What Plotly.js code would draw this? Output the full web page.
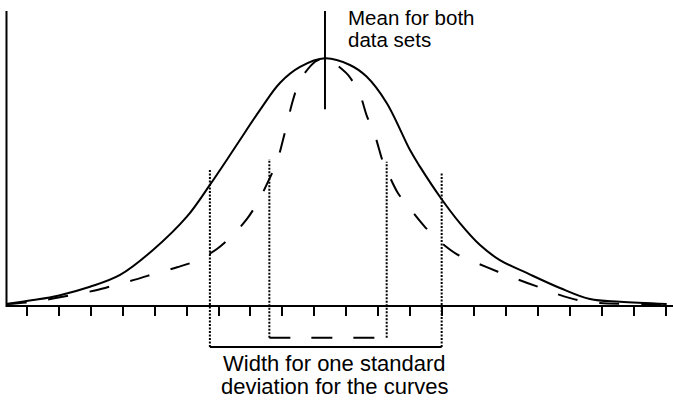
<!DOCTYPE html>
<html>
<head>
<meta charset="utf-8">
<script src="https://cdn.plot.ly/plotly-3.0.1.min.js"></script>
<style>html,body{margin:0;padding:0;background:#fff;}#chart{width:673px;height:403px;}</style>
</head>
<body>
<div id="chart"></div>
<script>
// ---- data ----
const tickVals = [0,1,2,3,4,5,6,7,8,9,10,11,12,13,14,15,16,17,18,19,20];

const solidX = [-0.63, 0.20, 0.98, 1.98, 2.92, 3.95, 5.01, 5.73, 6.36, 6.67, 7.30, 7.92, 8.55, 9.33, 10.11, 10.63, 11.26, 11.99, 12.30, 12.93, 13.55, 14.18, 14.80, 15.64, 16.68, 17.62, 18.56, 20.02];
const solidY = [0.008, 0.024, 0.042, 0.078, 0.126, 0.227, 0.362, 0.491, 0.612, 0.673, 0.795, 0.904, 0.969, 1.004, 0.977, 0.930, 0.823, 0.632, 0.565, 0.442, 0.336, 0.247, 0.186, 0.134, 0.073, 0.028, 0.017, 0.008];

const dashX = [-0.63, 0.20, 1.45, 2.20, 2.76, 3.45, 4.07, 4.73, 5.36, 5.95, 6.45, 6.89, 7.24, 7.55, 7.83, 8.05, 8.33, 8.55, 9.02, 9.33, 9.49, 10.05, 10.43, 10.63, 10.89, 11.14, 11.30, 11.61, 12.04, 12.46, 12.98, 13.49, 14.08, 14.74, 15.33, 15.99, 16.58, 17.24, 17.93, 19.28, 20.02];
const dashY = [0.008, 0.017, 0.045, 0.065, 0.085, 0.109, 0.134, 0.158, 0.186, 0.231, 0.288, 0.353, 0.423, 0.504, 0.585, 0.690, 0.835, 0.916, 0.990, 1.005, 0.997, 0.937, 0.855, 0.774, 0.693, 0.585, 0.539, 0.458, 0.386, 0.320, 0.255, 0.207, 0.174, 0.139, 0.109, 0.078, 0.049, 0.024, 0.012, 0.008, 0.008];

const meanX = 9.33;
const solidSdBounds = [5.73, 12.98];
const dashSdBounds = [7.59, 11.26];

const meanLabel = ["Mean for both", "data sets"];
const widthLabel = ["Width for one standard", "deviation for the curves"];

// ---- drawing ----
const FONT = "Liberation Sans, Arial, Helvetica, sans-serif";
const black = "#000";

const traces = [
  {x: solidX, y: solidY, type: "scatter", mode: "lines", hoverinfo: "skip",
   line: {color: black, width: 2, shape: "spline", smoothing: 1}},
  {x: dashX, y: dashY, type: "scatter", mode: "lines", hoverinfo: "skip",
   line: {color: black, width: 2, shape: "spline", smoothing: 0.8, dash: "20px,22px"}}
];

const xMin = -0.835, xMax = 20.216;
const axisX = -0.632;
const dotted = {color: black, width: 2, dash: "2px,1.5px"};

const shapes = [
  // axes
  {type: "line", xref: "x", yref: "y", x0: axisX, x1: axisX, y0: -0.004, y1: 1.196, line: {color: black, width: 2}},
  {type: "line", xref: "x", yref: "y", x0: axisX, x1: xMax, y0: 0, y1: 0, line: {color: black, width: 2}},
  // mean marker
  {type: "line", xref: "x", yref: "y", x0: meanX, x1: meanX, y0: 0.7975, y1: 1.196, line: {color: black, width: 2}},
  // sd guides (dotted)
  {type: "line", xref: "x", yref: "y", x0: solidSdBounds[0], x1: solidSdBounds[0], y0: -0.166, y1: 0.551, line: dotted},
  {type: "line", xref: "x", yref: "y", x0: solidSdBounds[1], x1: solidSdBounds[1], y0: -0.166, y1: 0.543, line: dotted},
  {type: "line", xref: "x", yref: "y", x0: dashSdBounds[0], x1: dashSdBounds[0], y0: -0.1285, y1: 0.596, line: dotted},
  {type: "line", xref: "x", yref: "y", x0: dashSdBounds[1], x1: dashSdBounds[1], y0: -0.1285, y1: 0.585, line: dotted},
  // brackets
  {type: "line", xref: "x", yref: "y", x0: solidSdBounds[0], x1: solidSdBounds[1], y0: -0.166, y1: -0.166, line: {color: black, width: 2}},
  {type: "line", xref: "x", yref: "y", x0: dashSdBounds[0], x1: dashSdBounds[1], y0: -0.1285, y1: -0.1285, line: {color: black, width: 2, dash: "21px,21px"}}
];

const annotations = [
  {text: meanLabel[0], xref: "paper", yref: "paper", x: 346/673, y: 1 - 17.7/403, xanchor: "left", yanchor: "middle", showarrow: false, font: {family: FONT, size: 20.5, color: black}},
  {text: meanLabel[1], xref: "paper", yref: "paper", x: 346/673, y: 1 - 39.7/403, xanchor: "left", yanchor: "middle", showarrow: false, font: {family: FONT, size: 20.5, color: black}},
  {text: widthLabel[0], xref: "paper", yref: "paper", x: 334.5/673, y: 1 - 363.7/403, xanchor: "center", yanchor: "middle", showarrow: false, font: {family: FONT, size: 22, color: black}},
  {text: widthLabel[1], xref: "paper", yref: "paper", x: 334.5/673, y: 1 - 386.7/403, xanchor: "center", yanchor: "middle", showarrow: false, font: {family: FONT, size: 22, color: black}}
];

const layout = {
  width: 673, height: 403,
  margin: {l: 0, r: 0, t: 0, b: 0, pad: 0},
  paper_bgcolor: "#fff", plot_bgcolor: "#fff",
  showlegend: false,
  font: {family: FONT, color: black},
  xaxis: {range: [xMin, xMax], anchor: "free", position: 97/403,
          showline: false, showgrid: false, zeroline: false,
          tickmode: "array", tickvals: tickVals, ticks: "outside",
          ticklen: 9, tickwidth: 2, tickcolor: black, showticklabels: false, fixedrange: true},
  yaxis: {range: [-0.3932, 1.2405], showline: false, showgrid: false, zeroline: false,
          showticklabels: false, ticks: "", fixedrange: true},
  shapes: shapes,
  annotations: annotations
};

Plotly.newPlot("chart", traces, layout, {displayModeBar: false, staticPlot: true});
</script>
</body>
</html>
